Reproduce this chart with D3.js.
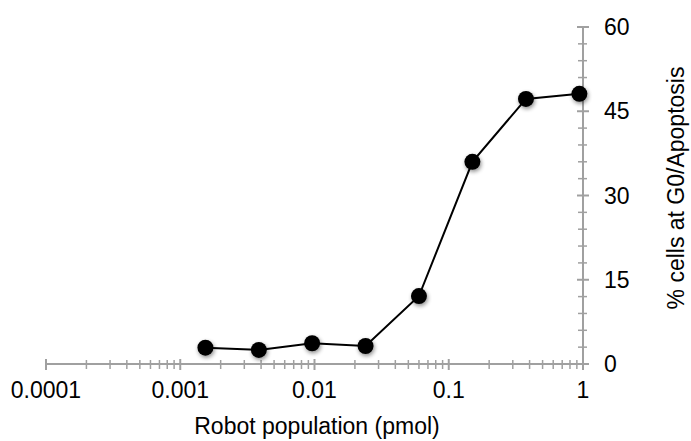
<!DOCTYPE html>
<html lang="en">
<head>
<meta charset="utf-8">
<title>Robot population</title>
<script src="https://d3js.org/d3.v7.min.js"></script>
<style>
  body { margin: 0; background: #fff; }
  text { font-family: "Liberation Sans", Arial, sans-serif; fill: #000; }
</style>
</head>
<body>
<script type="text/javascript">

    var w = 691;
    var h = 441;

    // data
    var doses = [0.00154, 0.00385, 0.0096, 0.024, 0.06, 0.15, 0.376, 0.94];
    var percent = [2.9, 2.5, 3.7, 3.2, 12.1, 36.0, 47.2, 48.1];
    var xTickValues = [0.0001, 0.001, 0.01, 0.1, 1];
    var xTickLabels = ["0.0001", "0.001", "0.01", "0.1", "1"];
    var yTickValues = [0, 15, 30, 45, 60];

    var plotLeft = 46, plotRight = 583, plotTop = 27, plotBottom = 364;
    var axisColor = "#a0a0a0";
    var fontSize = 23;

    var x = d3.scaleLog().domain([0.0001, 1]).range([plotLeft, plotRight]);
    var y = d3.scaleLinear().domain([0, 60]).range([plotBottom, plotTop]);

    var svg = d3.select("body").append("svg")
        .attr("width", w)
        .attr("height", h);

    var defs = svg.append("defs");
    var shadow = defs.append("filter")
        .attr("id", "shadow")
        .attr("x", "-50%").attr("y", "-50%")
        .attr("width", "200%").attr("height", "200%");
    shadow.append("feGaussianBlur")
        .attr("in", "SourceAlpha")
        .attr("stdDeviation", 2.2)
        .attr("result", "blur");
    shadow.append("feOffset")
        .attr("in", "blur").attr("dx", 1).attr("dy", 1.5)
        .attr("result", "off");
    shadow.append("feComponentTransfer").attr("in", "off").attr("result", "soft")
        .append("feFuncA").attr("type", "linear").attr("slope", 0.45);
    var merge = shadow.append("feMerge");
    merge.append("feMergeNode").attr("in", "soft");
    merge.append("feMergeNode").attr("in", "SourceGraphic");

    // minor ticks of the log axis: 2..9 per decade
    var xMinor = [];
    for (var d = -4; d < 0; d++) {
        for (var k = 2; k <= 9; k++) xMinor.push(k * Math.pow(10, d));
    }
    var yMinor = d3.range(0, 61, 3).filter(function (v) { return v % 15 !== 0; });

    // x axis
    var xAxis = svg.append("g").attr("transform", "translate(0," + plotBottom + ")");
    xAxis.append("line")
        .attr("x1", plotLeft).attr("x2", plotRight)
        .attr("stroke", axisColor).attr("stroke-width", 2);
    xAxis.selectAll("line.minor")
        .data(xMinor).enter().append("line")
        .attr("class", "minor")
        .attr("x1", function (d) { return x(d); })
        .attr("x2", function (d) { return x(d); })
        .attr("y1", -4).attr("y2", 5)
        .attr("stroke", axisColor).attr("stroke-width", 1.5);
    xAxis.selectAll("line.major")
        .data(xTickValues).enter().append("line")
        .attr("class", "major")
        .attr("x1", function (d) { return x(d); })
        .attr("x2", function (d) { return x(d); })
        .attr("y1", -5).attr("y2", 6)
        .attr("stroke", axisColor).attr("stroke-width", 2);
    xAxis.selectAll("text")
        .data(xTickValues).enter().append("text")
        .attr("x", function (d) { return x(d); })
        .attr("y", 34)
        .attr("text-anchor", "middle")
        .attr("font-size", fontSize)
        .text(function (d, i) { return xTickLabels[i]; });

    // y axis on the right
    var yAxis = svg.append("g").attr("transform", "translate(" + plotRight + ",0)");
    yAxis.append("line")
        .attr("y1", plotTop).attr("y2", plotBottom)
        .attr("stroke", axisColor).attr("stroke-width", 2);
    yAxis.selectAll("line.minor")
        .data(yMinor).enter().append("line")
        .attr("class", "minor")
        .attr("y1", function (d) { return y(d); })
        .attr("y2", function (d) { return y(d); })
        .attr("x1", -5).attr("x2", 4)
        .attr("stroke", axisColor).attr("stroke-width", 1.5);
    yAxis.selectAll("line.major")
        .data(yTickValues).enter().append("line")
        .attr("class", "major")
        .attr("y1", function (d) { return y(d); })
        .attr("y2", function (d) { return y(d); })
        .attr("x1", -6).attr("x2", 6)
        .attr("stroke", axisColor).attr("stroke-width", 2);
    yAxis.selectAll("text")
        .data(yTickValues).enter().append("text")
        .attr("x", 21)
        .attr("y", function (d) { return y(d) + 8; })
        .attr("font-size", fontSize)
        .text(function (d) { return d; });

    // titles
    svg.append("text")
        .attr("x", 317).attr("y", 434)
        .attr("text-anchor", "middle")
        .attr("font-size", fontSize)
        .text("Robot population (pmol)");
    svg.append("text")
        .attr("transform", "translate(684,188) rotate(-90)")
        .attr("text-anchor", "middle")
        .attr("font-size", fontSize)
        .text("% cells at G0/Apoptosis");

    // series
    var line = d3.line()
        .x(function (d, i) { return x(doses[i]); })
        .y(function (d) { return y(d); });

    svg.append("path")
        .datum(percent)
        .attr("d", line)
        .attr("fill", "none")
        .attr("stroke", "#000")
        .attr("stroke-width", 2);

    svg.selectAll("circle.pt")
        .data(percent).enter().append("circle")
        .attr("class", "pt")
        .attr("cx", function (d, i) { return x(doses[i]); })
        .attr("cy", function (d) { return y(d); })
        .attr("r", 8)
        .attr("fill", "#000")
        .attr("filter", "url(#shadow)");

</script>
</body>
</html>
